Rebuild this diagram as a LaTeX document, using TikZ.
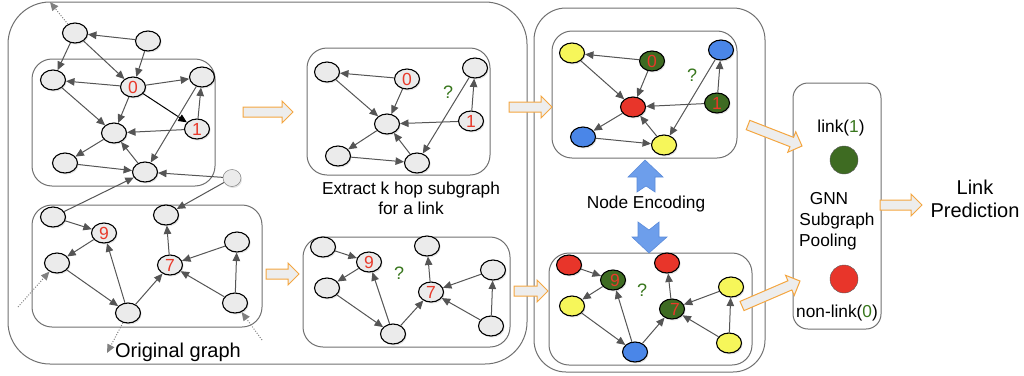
\documentclass[tikz,border=0pt]{standalone}
\usepackage{fontspec}
\setmainfont{Liberation Sans}
\usetikzlibrary{shapes.geometric,arrows.meta,shadows,calc}

\definecolor{edgegray}{HTML}{555555}
\definecolor{boxgray}{HTML}{707070}
\definecolor{nodefill}{HTML}{EBEBEB}
\definecolor{lblred}{HTML}{E8392A}
\definecolor{qgreen}{HTML}{38761D}
\definecolor{ngreen}{HTML}{3E6B22}
\definecolor{nyellow}{HTML}{F6F65A}
\definecolor{nblue}{HTML}{4A86E8}
\definecolor{nred}{HTML}{E8352A}
\definecolor{arrorange}{HTML}{F4A640}
\definecolor{arrfill}{HTML}{EDEDED}
\definecolor{encblue}{HTML}{6D9EEB}
\definecolor{encborder}{HTML}{5B8BD9}

\tikzset{
  gnode/.style={ellipse, draw=black, line width=1.1pt, fill=nodefill,
    minimum width=25pt, minimum height=20pt, inner sep=0pt,
    drop shadow={opacity=0.22, shadow xshift=1pt, shadow yshift=-1.5pt},
    text=lblred, font=\fontsize{17.5}{17.5}\selectfont},
  tinynode/.style={gnode, minimum width=18pt, minimum height=17pt, line width=0.5pt, draw=gray},
  ynode/.style={gnode, fill=nyellow},
  gnnode/.style={gnode, fill=ngreen},
  bnode/.style={gnode, fill=nblue},
  rnode/.style={gnode, fill=nred},
  conn/.style={draw=edgegray, line width=1pt, -{Triangle[length=8.5pt,width=7.5pt]}},
  darkconn/.style={conn, draw=black},
  dotconn/.style={conn, draw=gray, dash pattern=on 1pt off 1.6pt},
  panel/.style={draw=boxgray, line width=1pt},
  qmark/.style={text=qgreen, font=\fontsize{18}{18}\selectfont},
  blockarrow/.style={draw=arrorange, fill=arrfill, line width=1pt},
  encarrow/.style={draw=encborder, fill=encblue, line width=0.6pt},
  outcome/.style={circle, minimum size=28pt, inner sep=0pt, draw=gray!70!black, line width=0.4pt},
  bigtext/.style={font=\fontsize{20}{23}\selectfont, align=center}
}

% hollow block arrow from #1 to #2
\newcommand{\fatarrow}[2]{%
  \draw[blockarrow] let \p1=(#1), \p2=(#2),
      \n1={atan2(\y2-\y1,\x2-\x1)}, \n2={veclen(\x2-\x1,\y2-\y1)},
      \n3={\n2-11pt} in
    [shift={(\p1)}, rotate=\n1]
    (0pt,-5pt) -- (\n3,-5pt) -- (\n3,-11pt) -- (\n2,0pt)
    -- (\n3,11pt) -- (\n3,5pt) -- (0pt,5pt) -- cycle;}

\begin{document}
\begin{tikzpicture}[x=1pt,y=-1pt, font=\fontsize{17.3}{20}\selectfont]
\useasboundingbox (0,0) rectangle (1024,375);

% ---------- panels ----------
\draw[panel, rounded corners=42pt] (8,2) rectangle (527,364);
\draw[panel, rounded corners=20pt] (32,59) rectangle (215,186);
\draw[panel, rounded corners=20pt] (32,205) rectangle (262,327);
\draw[panel, rounded corners=20pt] (307,48) rectangle (490,175);
\draw[panel, rounded corners=20pt] (303,237) rectangle (510,347);
\draw[panel, rounded corners=32pt] (534,8) rectangle (765,372);
\draw[panel, rounded corners=20pt] (552,31) rectangle (737,158);
\draw[panel, rounded corners=20pt] (549,253) rectangle (752,365);
\draw[panel, rounded corners=15pt] (793,83) rectangle (881,329);

% ---------- original graph ----------
\node[gnode] (oA) at (75,33) {};
\node[gnode] (oB) at (148,41) {};
\node[gnode] (oC) at (53,80) {};
\node[gnode] (o0) at (133,87) {0};
\node[gnode] (oD) at (202,77) {};
\node[gnode] (oE) at (114,133) {};
\node[gnode] (o1) at (197,129) {1};
\node[gnode] (oF) at (65,163) {};
\node[gnode] (oG) at (145,172) {};
\node[tinynode] (oH) at (232,178) {};

\node[gnode] (oP) at (53,217) {};
\node[gnode] (o9) at (104,233) {9};
\node[gnode] (oQ) at (166,215) {};
\node[gnode] (oR) at (57,263) {};
\node[gnode] (o7) at (170,265) {7};
\node[gnode] (oS) at (237,242) {};
\node[gnode] (oT) at (128,313) {};
\node[gnode] (oU) at (235,303) {};

\coordinate (dTop) at (50,2);
\coordinate (dLeft) at (18,307);
\coordinate (dDown) at (107,353);
\coordinate (dRight) at (262,340);

\draw[conn] (oB) -- (oA);
\draw[conn] (oA) -- (oC);
\draw[conn] (oA) -- (o0);
\draw[conn] (oB) -- (o0);
\draw[conn] (o0) -- (oC);
\draw[conn] (o0) -- (oD);
\draw[darkconn] (o0) -- (o1);
\draw[conn] (o0) -- (oE);
\draw[conn] (oC) -- (oE);
\draw[conn] (o1) -- (oE);
\draw[conn] (o1) -- (oD);
\draw[conn] (oD) -- (oG);
\draw[conn] (oE) -- (oF);
\draw[conn] (oF) -- (oG);
\draw[conn] (oG) -- (oE);
\draw[conn] (oH) -- (oG);
\draw[conn] (oH) -- (oQ);
\draw[conn] (oP) -- (oG);

\draw[conn] (oP) -- (o9);
\draw[conn] (o9) -- (oR);
\draw[conn] (oR) -- (oT);
\draw[conn] (oT) -- (o9);
\draw[conn] (oT) -- (o7);
\draw[conn] (o7) -- (oQ);
\draw[conn] (oS) -- (o7);
\draw[conn] (oU) -- (o7);
\draw[conn] (oU) -- (oS);

\draw[dotconn] (oA) -- (dTop);
\draw[dotconn] (dLeft) -- (oR);
\draw[dotconn] (oT) -- (dDown);
\draw[dotconn] (dRight) -- (oU);

\node[bigtext] (origlbl) at (178,352) {Original graph};

% ---------- extracted subgraphs ----------
\node[gnode] (eA) at (327,72) {};
\node[gnode] (e0) at (407,79) {0};
\node[gnode] (eB) at (475,68) {};
\node[gnode] (eC) at (387,124) {};
\node[gnode] (e1) at (471,121) {1};
\node[gnode] (eD) at (338,156) {};
\node[gnode] (eE) at (417,163) {};
\node[qmark] (eq) at (448,92) {?};

\draw[conn] (e0) -- (eA);
\draw[conn] (e0) -- (eC);
\draw[conn] (eA) -- (eC);
\draw[conn] (e1) -- (eC);
\draw[conn] (e1) -- (eB);
\draw[conn] (eB) -- (eE);
\draw[conn] (eC) -- (eD);
\draw[conn] (eD) -- (eE);
\draw[conn] (eE) -- (eC);

\node[gnode] (fA) at (323,247) {};
\node[gnode] (f9) at (369,262) {9};
\node[gnode] (fB) at (427,246) {};
\node[gnode] (fC) at (493,270) {};
\node[gnode] (fD) at (327,288) {};
\node[gnode] (f7) at (431,292) {7};
\node[gnode] (fE) at (393,334) {};
\node[gnode] (fF) at (491,326) {};
\node[qmark] (fq) at (399,273) {?};

\draw[conn] (fA) -- (f9);
\draw[conn] (f9) -- (fD);
\draw[conn] (fD) -- (fE);
\draw[conn] (fE) -- (f9);
\draw[conn] (fE) -- (f7);
\draw[conn] (f7) -- (fB);
\draw[conn] (fC) -- (f7);
\draw[conn] (fF) -- (f7);
\draw[conn] (fF) -- (fC);

\node[align=center] (extlbl) at (411,198) {Extract k hop subgraph\\for a link};

% ---------- encoded subgraphs ----------
\node[ynode] (mA) at (572,53) {};
\node[gnnode] (m0) at (652,61) {0};
\node[bnode] (mB) at (721,50) {};
\node[rnode] (mC) at (633,107) {};
\node[gnnode] (m1) at (717,103) {1};
\node[bnode] (mD) at (583,137) {};
\node[ynode] (mE) at (664,145) {};
\node[qmark] (mq) at (692,75) {?};

\draw[conn] (m0) -- (mA);
\draw[conn] (m0) -- (mC);
\draw[conn] (mA) -- (mC);
\draw[conn] (m1) -- (mC);
\draw[conn] (m1) -- (mB);
\draw[conn] (mB) -- (mE);
\draw[conn] (mC) -- (mD);
\draw[conn] (mD) -- (mE);
\draw[conn] (mE) -- (mC);

\node[rnode] (nA) at (569,265) {};
\node[gnnode] (n9) at (613,280) {\hspace{4pt}9};
\node[rnode] (nB) at (667,263) {};
\node[ynode] (nC) at (731,287) {};
\node[ynode] (nD) at (572,306) {};
\node[gnnode] (n7) at (672,309) {\hspace{6pt}7};
\node[bnode] (nE) at (635,352) {};
\node[ynode] (nF) at (729,343) {};
\node[qmark] (nq) at (642,290) {?};

\draw[conn] (nA) -- (n9);
\draw[conn] (n9) -- (nD);
\draw[conn] (nD) -- (nE);
\draw[conn] (nE) -- (n9);
\draw[conn] (nE) -- (n7);
\draw[conn] (n7) -- (nB);
\draw[conn] (nC) -- (n7);
\draw[conn] (nF) -- (n7);
\draw[conn] (nF) -- (nC);

\node (enclbl) at (646,204) {Node Encoding};

% node-encoding arrows
\draw[encarrow] (645,160) -- (663,177) -- (655,177) -- (655,192) -- (646,186)
  -- (637,192) -- (637,177) -- (628,177) -- cycle;
\draw[encarrow] (638,222) -- (649,230) -- (659,222) -- (659,237) -- (667,237)
  -- (649,253) -- (632,237) -- (638,237) -- cycle;

% ---------- pooling ----------
\node (lk1) at (841,128) {link(\textcolor{qgreen}{1})};
\node[outcome, fill=ngreen] (pos) at (844,160) {};
\node (gnn) at (829,199) {GNN};
\node (sub) at (837,221) {Subgraph};
\node (pool) at (828,242) {Pooling};
\node[outcome, fill=nred] (neg) at (844,279) {};
\node (lk0) at (837,313) {non-link(\textcolor{qgreen}{0})};

\node[bigtext] (pred) at (975,199) {Link\\Prediction};

% ---------- flow arrows ----------
\coordinate (a1s) at (243,112); \coordinate (a1e) at (293,112);
\coordinate (a2s) at (266,274); \coordinate (a2e) at (299,274);
\coordinate (a3s) at (509,107); \coordinate (a3e) at (552,107);
\coordinate (a4s) at (514,291); \coordinate (a4e) at (548,291);
\coordinate (a5s) at (748,125); \coordinate (a5e) at (802,146);
\coordinate (a6s) at (742,306); \coordinate (a6e) at (800,281);
\coordinate (a7s) at (880,205); \coordinate (a7e) at (922,205);
\fatarrow{a1s}{a1e}
\fatarrow{a2s}{a2e}
\fatarrow{a3s}{a3e}
\fatarrow{a4s}{a4e}
\fatarrow{a5s}{a5e}
\fatarrow{a6s}{a6e}
\fatarrow{a7s}{a7e}
\end{tikzpicture}
\end{document}
